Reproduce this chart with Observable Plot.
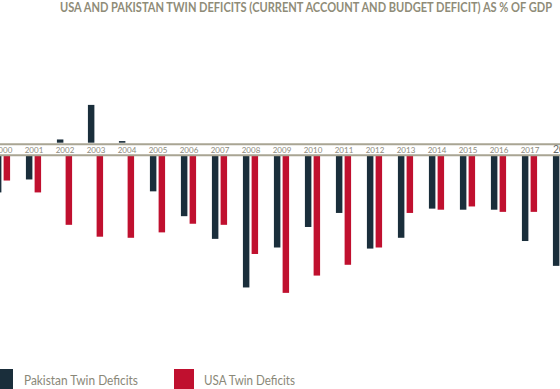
<!DOCTYPE html>
<html><head><meta charset="utf-8">
<script src="https://cdn.jsdelivr.net/npm/d3@7"></script>
<script src="https://cdn.jsdelivr.net/npm/@observablehq/plot@0.6"></script>
<style>
html,body{margin:0;padding:0;width:560px;height:389px;overflow:hidden;background:#fff;}
#title{position:relative;height:18px;}
#title span{position:absolute;left:60px;top:1px;font:700 12.5px/13px Lato,sans-serif;color:#8f8c78;white-space:nowrap;transform-origin:0 0;}
#chart svg{display:block;}
#legend{position:relative;height:26px;}
#legend .sw{position:absolute;top:6px;width:20px;height:24px;}
#legend .lb{position:absolute;top:11px;font:400 12.5px/14px Lato,sans-serif;color:#8a8878;white-space:nowrap;transform-origin:0 0;}
</style>
</head><body>
<div id="title"><span id="t">USA AND PAKISTAN TWIN DEFICITS (CURRENT ACCOUNT AND BUDGET DEFICIT) AS % OF GDP</span></div>
<div id="chart"></div>
<div id="legend">
  <div class="sw" style="left:-7px;background:#1a2e3b"></div>
  <div class="lb" id="l1" style="left:24px">Pakistan Twin Deficits</div>
  <div class="sw" style="left:174px;background:#c0102f"></div>
  <div class="lb" id="l2" style="left:204px">USA Twin Deficits</div>
</div>
<script>
const years = [2000,2001,2002,2003,2004,2005,2006,2007,2008,2009,2010,2011,2012,2013,2014,2015,2016,2017,2018];
const pakistan = [-3.4,-2.2,0.3,3.5,0.15,-3.3,-5.6,-7.7,-12.2,-8.5,-6.6,-5.3,-8.6,-7.6,-4.9,-5.0,-5.0,-7.9,-10.2];
const usa = [-2.3,-3.4,-6.4,-7.5,-7.6,-7.1,-6.3,-6.4,-9.1,-12.7,-11.1,-10.1,-8.5,-5.3,-5.0,-4.7,-5.2,-5.2,null];
const seriesNames = ["Pakistan Twin Deficits","USA Twin Deficits"];
const colors = ["#1a2e3b","#c0102f"];

const rows = [];
years.forEach((y,i)=>{
  rows.push({year:y, series:seriesNames[0], value:pakistan[i]});
  rows.push({year:y, series:seriesNames[1], value:usa[i]});
});
const valid = rows.filter(d=>d.value!=null);
const pos = valid.filter(d=>d.value>0), neg = valid.filter(d=>d.value<=0);
const bandW = 31.125, inset = (bandW-6.6)/2;
const off = s => s===seriesNames[0] ? -4.35 : 4.35;
const lineColor = "#a9a593";

function bars(data, dy){
  return seriesNames.map((s,k)=>Plot.barY(data.filter(d=>d.series===s), {
    x:"year", y:"value", fill:colors[k], insetLeft:inset, insetRight:inset, dx:off(s), dy
  }));
}
const zero = 131.2, k = 10.8;
const chart = Plot.plot({
  width:560, height:345, margin:0,
  x:{type:"band", domain:years, range:[-14.34, -14.34+bandW*years.length], padding:0, axis:null},
  y:{domain:[-20,20], range:[zero+20*k, zero-20*k], axis:null},
  style:{background:"transparent"},
  marks:[
    ...bars(pos,-6.5),
    ...bars(neg,6.5),
    Plot.ruleY([0],{stroke:lineColor, strokeWidth:2, dy:-5.4}),
    Plot.ruleY([0],{stroke:lineColor, strokeWidth:2, dy:5.6}),
    Plot.text(years.slice(0,-1),{x:d=>d, y:0, text:d=>String(d), fontSize:8, fill:"#8d8b7d", fontFamily:"Lato, sans-serif", dy:0.5}),
    Plot.text(years.slice(-1),{x:d=>d, y:0, text:d=>String(d), fontSize:10.5, fill:"#666a6a", fontFamily:"Lato, sans-serif", textAnchor:"start", dx:-8, dy:-0.5})
  ]
});
document.getElementById("chart").appendChild(chart);
function fit(id,w){const el=document.getElementById(id);const r=el.getBoundingClientRect().width;el.style.transform=`scaleX(${w/r})`;}
fit("t",492); fit("l1",114); fit("l2",91);
</script>
</body></html>
